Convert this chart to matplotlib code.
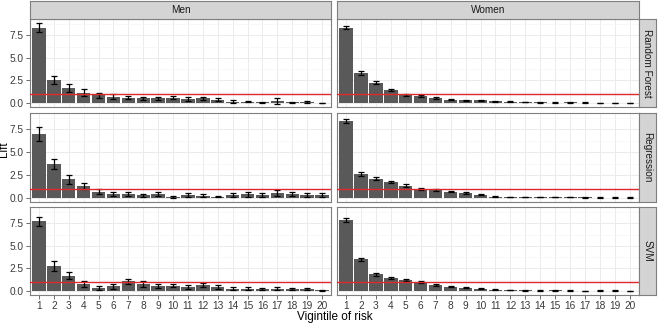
import numpy as np
import matplotlib.pyplot as plt

plt.rcParams['font.family'] = ['Liberation Sans', 'DejaVu Sans']

vigintiles = list(range(1, 21))
sexes = ['Men', 'Women']
models = ['Random Forest', 'Regression', 'SVM']

# lift values
men_rf = [8.35, 2.55, 1.65, 1.15, 0.85, 0.7, 0.6, 0.5, 0.5, 0.6, 0.45, 0.5, 0.35, 0.15, 0.15, 0.05, 0.2, 0.05, 0.12, 0.01]
men_rf_err = [0.5, 0.4, 0.4, 0.35, 0.25, 0.25, 0.2, 0.2, 0.2, 0.2, 0.2, 0.2, 0.15, 0.15, 0.1, 0.05, 0.3, 0.05, 0.08, 0.02]
women_rf = [8.35, 3.35, 2.25, 1.45, 0.9, 0.75, 0.55, 0.35, 0.3, 0.3, 0.2, 0.15, 0.1, 0.05, 0.03, 0.05, 0.03, 0.02, 0.02, 0.01]
women_rf_err = [0.2, 0.2, 0.15, 0.12, 0.1, 0.1, 0.08, 0.06, 0.06, 0.06, 0.05, 0.04, 0.03, 0.02, 0.02, 0.02, 0.02, 0.02, 0.02, 0.01]

men_reg = [7.0, 3.7, 2.05, 1.3, 0.7, 0.4, 0.4, 0.3, 0.4, 0.1, 0.35, 0.25, 0.15, 0.3, 0.4, 0.35, 0.55, 0.45, 0.35, 0.35]
men_reg_err = [0.75, 0.55, 0.5, 0.35, 0.3, 0.2, 0.2, 0.15, 0.2, 0.1, 0.2, 0.2, 0.1, 0.2, 0.25, 0.2, 0.3, 0.25, 0.2, 0.2]
women_reg = [8.45, 2.65, 2.1, 1.75, 1.35, 1.0, 0.85, 0.7, 0.55, 0.35, 0.15, 0.1, 0.08, 0.1, 0.1, 0.08, 0.05, 0.04, 0.04, 0.04]
women_reg_err = [0.2, 0.2, 0.15, 0.12, 0.12, 0.1, 0.1, 0.08, 0.08, 0.06, 0.04, 0.03, 0.03, 0.03, 0.03, 0.03, 0.02, 0.02, 0.02, 0.02]

men_svm = [7.7, 2.8, 1.7, 0.75, 0.3, 0.5, 1.05, 0.75, 0.55, 0.6, 0.45, 0.65, 0.45, 0.25, 0.25, 0.2, 0.25, 0.2, 0.2, 0.05]
men_svm_err = [0.5, 0.55, 0.4, 0.3, 0.2, 0.3, 0.3, 0.3, 0.2, 0.2, 0.2, 0.2, 0.2, 0.15, 0.15, 0.12, 0.15, 0.1, 0.1, 0.05]
women_svm = [7.85, 3.5, 1.85, 1.45, 1.2, 0.95, 0.7, 0.45, 0.35, 0.25, 0.12, 0.08, 0.05, 0.03, 0.06, 0.03, 0.02, 0.03, 0.03, 0.02]
women_svm_err = [0.2, 0.2, 0.15, 0.12, 0.1, 0.1, 0.1, 0.06, 0.06, 0.05, 0.04, 0.03, 0.02, 0.02, 0.02, 0.02, 0.02, 0.02, 0.02, 0.01]

data = {
    ('Men', 'Random Forest'): (men_rf, men_rf_err),
    ('Women', 'Random Forest'): (women_rf, women_rf_err),
    ('Men', 'Regression'): (men_reg, men_reg_err),
    ('Women', 'Regression'): (women_reg, women_reg_err),
    ('Men', 'SVM'): (men_svm, men_svm_err),
    ('Women', 'SVM'): (women_svm, women_svm_err),
}

W, H = 658, 325
fig = plt.figure(figsize=(W / 100, H / 100), dpi=100)

def px(x0, y0, x1, y1):
    # pixel box (top-left origin) -> figure fraction
    return [x0 / W, 1 - y1 / H, (x1 - x0) / W, (y1 - y0) / H]

col_x = [(30, 331), (337, 639)]
row_y = [(19, 107), (113, 202), (207, 295)]
border = '#7f7f7f'
strip_fill = '#d4d4d4'

for r, model in enumerate(models):
    for c, sex in enumerate(sexes):
        x0, x1 = col_x[c]
        y0, y1 = row_y[r]
        ax = fig.add_axes(px(x0, y0, x1, y1))
        vals, errs = data[(sex, model)]
        ax.bar(vigintiles, vals, width=0.9, color='#595959', zorder=2)
        ax.errorbar(vigintiles, vals, yerr=errs, fmt='none', ecolor='black',
                    elinewidth=0.9, capsize=2.2, capthick=0.9, zorder=3)
        ax.axhline(1, color='#e0282e', lw=1.0, zorder=4)
        ax.set_xlim(0.4, 20.6)
        ax.set_ylim(-0.45, 9.3)
        ax.set_yticks([0, 2.5, 5, 7.5])
        ax.set_yticks([1.25, 3.75, 6.25, 8.75], minor=True)
        ax.set_xticks(vigintiles)
        ax.grid(True, which='major', color='#ebebeb', lw=0.7, zorder=0)
        ax.grid(True, which='minor', axis='y', color='#f5f5f5', lw=0.5, zorder=0)
        ax.set_axisbelow(True)
        for s in ax.spines.values():
            s.set_color(border)
            s.set_linewidth(0.8)
        ax.tick_params(which='minor', length=0)
        ax.tick_params(which='major', length=3, color='#555555', width=0.6,
                       labelsize=7.3, labelcolor='#3a3a3a', pad=1.5)
        if c == 0:
            ax.set_yticklabels(['0.0', '2.5', '5.0', '7.5'])
        else:
            ax.tick_params(axis='y', labelleft=False, length=0)
        if r == 2:
            ax.set_xticklabels([str(v) for v in vigintiles])
        else:
            ax.tick_params(axis='x', labelbottom=False, length=0)

        if r == 0:
            sa = fig.add_axes(px(x0, 1, x1, y0))
            sa.set_xticks([]); sa.set_yticks([])
            sa.set_facecolor(strip_fill)
            for s in sa.spines.values():
                s.set_color(border); s.set_linewidth(0.8)
            sa.text(0.5, 0.5, sex, ha='center', va='center', fontsize=7.2,
                    color='#1a1a1a', transform=sa.transAxes)
        if c == 1:
            sa = fig.add_axes(px(x1, y0, 656, y1))
            sa.set_xticks([]); sa.set_yticks([])
            sa.set_facecolor(strip_fill)
            for s in sa.spines.values():
                s.set_color(border); s.set_linewidth(0.8)
            sa.text(0.5, 0.5, model, ha='center', va='center', fontsize=7.2,
                    color='#1a1a1a', rotation=-90, transform=sa.transAxes)

fig.text(335 / W, 1 - 317 / H, 'Vigintile of risk', ha='center', va='center', fontsize=8.5)
fig.text(4.5 / W, 1 - 149 / H, 'Lift', ha='center', va='center', fontsize=8.3, rotation=90)

fig.savefig('out.png', dpi=100)
